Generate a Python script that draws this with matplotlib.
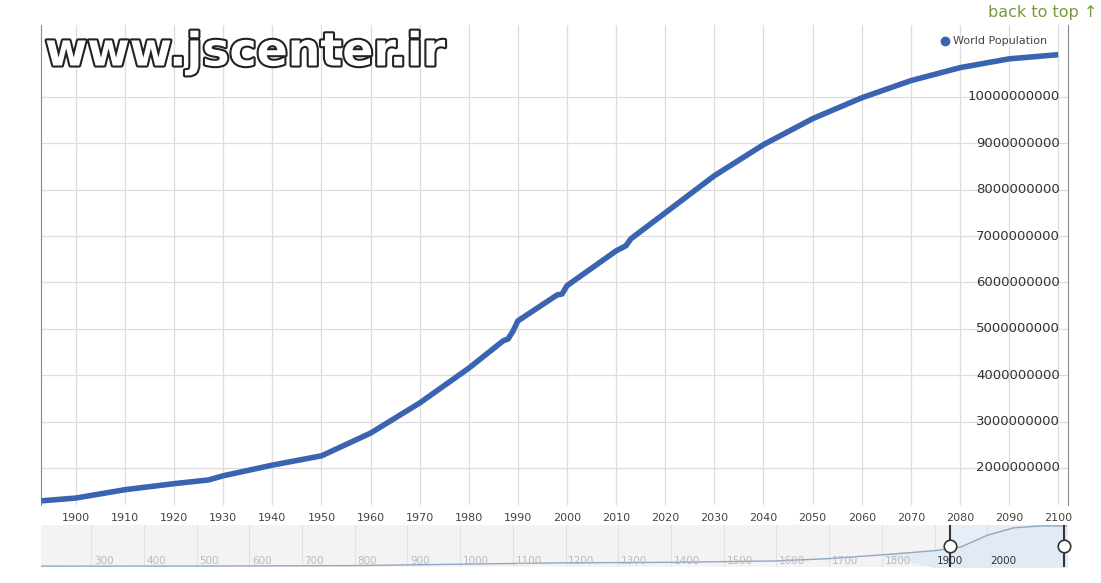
import matplotlib
matplotlib.use("Agg")
import matplotlib.pyplot as plt
import matplotlib.patheffects as pe

years = [1893, 1900, 1910, 1920, 1927, 1930, 1940, 1950, 1960, 1970, 1980, 1987, 1988,
         1989, 1990, 1998, 1999, 2000, 2010, 2012, 2013, 2020, 2030, 2040, 2050, 2060,
         2070, 2080, 2090, 2100]
population = [1.29e9, 1.35e9, 1.53e9, 1.66e9, 1.74e9, 1.83e9, 2.06e9, 2.26e9, 2.75e9,
              3.40e9, 4.15e9, 4.74e9, 4.78e9, 4.95e9, 5.17e9, 5.73e9, 5.75e9, 5.93e9,
              6.68e9, 6.79e9, 6.94e9, 7.5e9, 8.3e9, 8.97e9, 9.53e9, 9.98e9, 10.35e9,
              10.63e9, 10.82e9, 10.91e9]
nav_years = [200, 500, 800, 1000, 1200, 1400, 1600, 1700, 1800, 1900, 1950, 2000, 2050, 2100, 2150]
nav_pop = [0.19e9, 0.2e9, 0.3e9, 0.6e9, 0.9e9, 1.0e9, 1.3e9, 1.8e9, 2.6e9, 3.5e9,
           4.3e9, 6.8e9, 8.4e9, 8.8e9, 8.8e9]
x_ticks = list(range(1900, 2101, 10))
y_ticks = [i * 1e9 for i in range(2, 11)]
nav_ticks = list(range(300, 2001, 100))

W, H = 1101, 583
fig = plt.figure(figsize=(W / 100, H / 100), dpi=100)
blue = "#3a63b0"

ax = fig.add_axes([41 / W, 1 - 505 / H, (1068 - 41) / W, (505 - 25) / H])
ax.plot(years, population, color=blue, lw=4, solid_capstyle="butt", zorder=3)
ax.set_xlim(1892.9, 2102)
ax.set_ylim(1.2e9, 11.55e9)
ax.set_xticks(x_ticks)
ax.set_xticklabels([str(t) for t in x_ticks], fontsize=8, color="#444")
ax.set_yticks(y_ticks)
ax.tick_params(axis="x", length=0, pad=6)
ax.tick_params(axis="y", length=0)
ax.set_yticklabels([])
for y in y_ticks:
    ax.text(0.992, y, f"{int(y)}", transform=ax.get_yaxis_transform(), ha="right",
            va="center", fontsize=9.5, color="#333", zorder=4)
ax.grid(True, color="#dddddd", lw=0.9)
ax.set_axisbelow(True)
for s in ["top", "bottom"]:
    ax.spines[s].set_visible(False)
ax.spines["left"].set_color("#888")
ax.spines["right"].set_color("#888")
ax.plot([0.88], [0.967], "o", transform=ax.transAxes, color=blue, ms=6, clip_on=False)
ax.text(0.888, 0.967, "World Population", transform=ax.transAxes, fontsize=8,
        color="#444", va="center")

fig.text(45 / W, 1 - 53 / H, "www.jscenter.ir", fontsize=33, fontweight="bold",
         color="white", va="center",
         path_effects=[pe.Stroke(linewidth=3, foreground="#222"), pe.Normal()])
fig.text(1097 / W, 1 - 12 / H, "back to top \u2191", fontsize=11.5, color="#7a9a3a",
         ha="right", va="center")

nav = fig.add_axes([41 / W, 1 - 567 / H, (1068 - 41) / W, (567 - 525) / H])
nav.set_facecolor("#f3f3f3")
nav.set_xlim(205, 2153)
nav.set_ylim(0, 9.0e9)
nav.axvspan(1930, 2145, color="#e8eef8", zorder=0)
nav.fill_between(nav_years, nav_pop, 0, where=[y >= 1900 for y in nav_years],
                 color="#e2eaf6", interpolate=True, zorder=1)
nav.plot(nav_years, nav_pop, color="#8fa6c6", lw=1, zorder=2)
for t in nav_ticks:
    nav.axvline(t, color="#e2e2e2", lw=0.8, zorder=0.5)
    nav.text(t + 5, 0.2e9, str(t), fontsize=7.5,
             color="#333" if t >= 1900 else "#bbb", va="bottom", zorder=3)
for hx in [1930, 2145]:
    nav.axvline(hx, color="#333", lw=1.5, zorder=4)
    nav.plot([hx], [4.5e9], marker="o", ms=9, mfc="white", mec="#333", mew=1.2,
             clip_on=False, zorder=5)
nav.set_xticks([])
nav.set_yticks([])
for s in nav.spines.values():
    s.set_visible(False)

fig.savefig("out.png", dpi=100)
